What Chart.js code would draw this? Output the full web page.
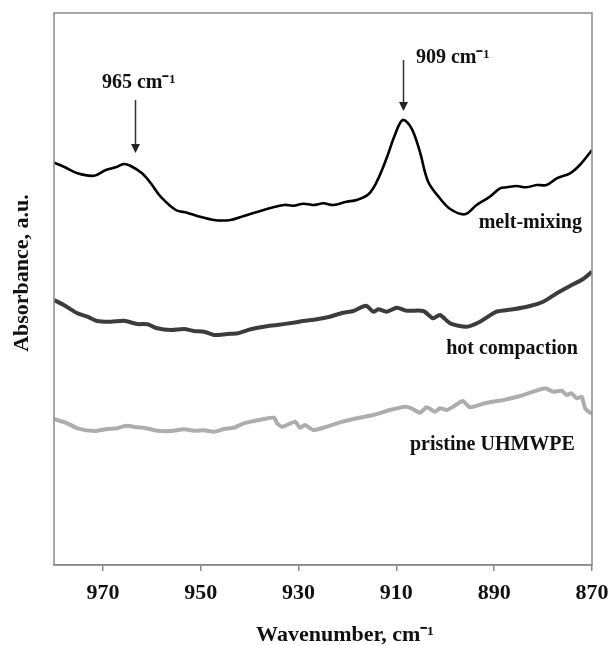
<!DOCTYPE html>
<html>
<head>
<meta charset="utf-8">
<script src="https://cdn.jsdelivr.net/npm/chart.js@4.4.1/dist/chart.umd.min.js"></script>
<style>
html,body{margin:0;padding:0;background:#fff;}
#wrap{width:610px;height:645px;}
</style>
</head>
<body>
<div id="wrap"><canvas id="c" width="610" height="645"></canvas></div>
<script>
// ---- data (wavenumber, cm-1 / absorbance a.u.) ----
const xTicks = [970, 950, 930, 910, 890, 870];

const meltWn  = [980.0,978.0,975.2,971.8,969.4,967.4,965.7,964.3,962.0,960.2,958.2,955.1,952.8,950.7,947.3,943.9,941.2,937.1,933.0,931.1,929.0,927.0,924.9,922.9,920.2,918.1,915.7,914.0,912.0,910.3,908.7,906.9,905.2,903.5,901.1,899.0,896.0,893.6,890.9,888.8,887.4,885.4,883.4,881.3,879.3,877.2,874.5,872.5,870.0];
const meltAbs = [402.3,398.3,391.7,389.3,395.0,397.7,401.0,399.0,391.7,381.7,368.3,355.0,352.3,349.0,345.0,345.0,349.0,355.0,360.0,359.3,361.3,360.0,361.7,360.0,363.3,365.0,370.7,383.3,406.7,430.0,445.0,436.7,413.3,383.3,366.7,356.0,350.7,360.0,368.3,376.7,377.7,379.0,377.7,380.0,380.0,386.7,391.7,400.0,415.0];

const hotWn  = [980.0,978.0,975.2,973.2,971.2,968.4,965.7,963.0,960.9,958.9,956.1,953.4,951.4,949.3,947.3,944.6,942.5,939.8,937.1,934.4,931.1,929.0,926.3,923.6,920.9,918.8,916.2,914.7,913.7,912.0,909.9,907.9,904.5,902.5,901.1,899.0,895.6,892.9,889.5,886.1,882.7,880.0,877.2,874.5,871.8,870.0];
const hotAbs = [265.0,260.0,251.7,248.3,244.0,243.3,244.3,241.0,240.7,236.7,235.0,236.0,234.0,233.3,230.0,231.0,231.7,235.7,238.3,240.0,242.3,244.0,245.7,248.3,252.3,254.0,259.3,253.3,255.7,253.3,257.3,254.3,254.0,246.7,250.0,241.7,238.3,243.3,253.3,255.7,259.0,263.3,271.7,279.0,286.0,293.3];

const prisWn  = [980.0,977.3,975.2,971.8,969.1,967.1,965.3,963.0,961.6,958.9,956.1,953.4,951.4,949.3,947.3,945.2,943.2,941.2,939.1,937.1,935.0,934.4,933.3,932.4,930.7,929.7,928.7,927.0,924.9,921.5,918.1,914.7,911.3,908.2,906.9,905.2,903.8,902.1,901.1,899.7,898.4,896.4,895.0,891.5,888.1,884.7,882.0,879.6,877.9,876.2,875.2,874.2,873.1,872.1,871.4,870.4,870.0];
const prisAbs = [146.0,141.7,136.7,134.0,136.0,136.7,139.3,137.7,137.3,134.3,134.0,135.7,134.3,134.7,133.3,136.0,137.3,141.7,144.0,146.0,147.3,141.7,138.3,140.0,143.3,137.3,140.0,135.0,137.3,142.7,146.7,150.0,155.0,158.3,156.7,152.3,157.7,153.3,156.7,155.0,158.3,164.0,157.7,162.3,165.0,169.0,173.3,176.7,173.3,174.3,170.0,171.7,166.7,168.3,156.7,152.3,152.0];

const seriesNames = ['melt-mixing', 'hot compaction', 'pristine UHMWPE'];
// annotation anchors (wavenumber, absorbance)
const peakLabels = ['965 cm\u207B\u00B9', '909 cm\u207B\u00B9'];
const peakLabelWn = [970.2, 906.0];
const peakLabelAbs = [477, 502];
const arrowWn = [963.4, 908.6];
const arrowFrom = [465, 505];
const arrowTo = [412, 454];
const nameWn = [872.05, 872.9, 873.5];
const nameAbs = [337, 211, 115];

const SERIF = '"Liberation Serif", "Times New Roman", serif';

function pts(xs, ys){ return xs.map((x,i)=>({x:x, y:ys[i]})); }

const annot = {
  id: 'annot',
  afterDatasetsDraw(chart){
    const ctx = chart.ctx, xs = chart.scales.x, ys = chart.scales.y, a = chart.chartArea;
    ctx.save();
    // box
    ctx.strokeStyle = '#8a8a8a';
    ctx.lineWidth = 1.5;
    ctx.strokeRect(a.left, a.top, a.right - a.left, a.bottom - a.top);
    // peak labels
    ctx.fillStyle = '#111';
    ctx.font = 'bold 20px ' + SERIF;
    ctx.textBaseline = 'alphabetic';
    ctx.textAlign = 'left';
    peakLabels.forEach((t,i)=>{
      ctx.fillText(t, xs.getPixelForValue(peakLabelWn[i]), ys.getPixelForValue(peakLabelAbs[i]));
    });
    // arrows
    ctx.strokeStyle = '#333';
    ctx.fillStyle = '#222';
    ctx.lineWidth = 1.5;
    arrowWn.forEach((w,i)=>{
      const x = Math.round(xs.getPixelForValue(w)) + 0.5;
      const y1 = ys.getPixelForValue(arrowFrom[i]);
      const y2 = ys.getPixelForValue(arrowTo[i]);
      ctx.beginPath(); ctx.moveTo(x, y1); ctx.lineTo(x, y2 - 8); ctx.stroke();
      ctx.beginPath(); ctx.moveTo(x - 4.5, y2 - 9); ctx.lineTo(x + 4.5, y2 - 9); ctx.lineTo(x, y2); ctx.closePath(); ctx.fill();
    });
    // series names
    ctx.fillStyle = '#111';
    ctx.textAlign = 'right';
    seriesNames.forEach((t,i)=>{
      ctx.fillText(t, xs.getPixelForValue(nameWn[i]), ys.getPixelForValue(nameAbs[i]));
    });
    // axis titles
    ctx.font = 'bold 22px ' + SERIF;
    ctx.textAlign = 'center';
    ctx.textBaseline = 'middle';
    ctx.fillText('Wavenumber, cm\u207B\u00B9', 345, 635);
    ctx.translate(22, 273);
    ctx.rotate(-Math.PI/2);
    ctx.fillText('Absorbance, a.u.', 0, 0);
    ctx.restore();
  }
};

new Chart(document.getElementById('c'), {
  type: 'line',
  data: {
    datasets: [
      { label: seriesNames[2], data: pts(prisWn, prisAbs), borderColor: '#adadad', borderWidth: 4, pointRadius: 0, tension: 0.2, fill: false },
      { label: seriesNames[1], data: pts(hotWn, hotAbs), borderColor: '#3c3c3c', borderWidth: 4, pointRadius: 0, tension: 0.25, fill: false },
      { label: seriesNames[0], data: pts(meltWn, meltAbs), borderColor: '#000000', borderWidth: 2.6, pointRadius: 0, tension: 0.35, fill: false }
    ]
  },
  options: {
    responsive: false,
    animation: false,
    events: [],
    layout: { padding: { left: 54, right: 18, top: 13, bottom: 0 } },
    plugins: { legend: { display: false }, tooltip: { enabled: false } },
    scales: {
      x: {
        type: 'linear', reverse: true, min: 870, max: 980,
        afterBuildTicks: (s) => { s.ticks = xTicks.map(v => ({ value: v })); },
        afterFit: (s) => { s.height = 80; s.paddingLeft = 0; s.paddingRight = 0; },
        grid: { drawOnChartArea: false, drawTicks: true, tickLength: 6, color: '#8a8a8a', lineWidth: 1.5 },
        border: { display: true, color: '#8a8a8a', width: 1.5 },
        ticks: { color: '#111', font: { family: SERIF, size: 22, weight: 'bold' }, padding: 9, maxRotation: 0, autoSkip: false }
      },
      y: {
        display: false, min: 0, max: 552
      }
    }
  },
  plugins: [annot]
});
</script>
</body>
</html>
